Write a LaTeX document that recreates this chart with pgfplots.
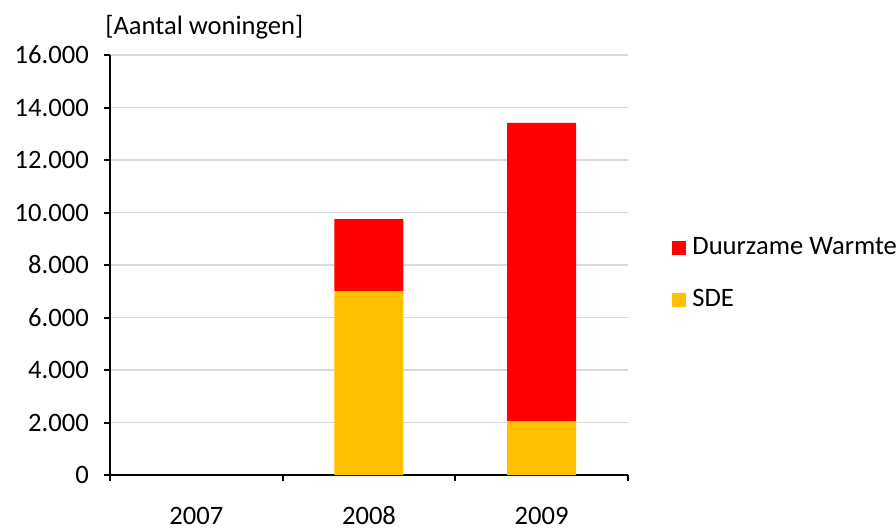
\documentclass[border=0pt]{standalone}
\usepackage{fontspec}
\setmainfont{Carlito}
\usepackage{pgfplots}
\pgfplotsset{compat=1.18}
\definecolor{sdeyel}{RGB}{255,192,0}
\begin{document}
\fontsize{13.3}{15.5}\selectfont
\begin{tikzpicture}
\path[use as bounding box] (-55pt,-26pt) rectangle (393pt,237.5pt);
\begin{axis}[
  at={(0,0)}, anchor=south west, scale only axis,
  width=259pt, height=210pt,
  ybar stacked, bar width=34.5pt,
  xmin=-0.5, xmax=2.5, ymin=0, ymax=16000,
  axis lines*=left,
  axis line style={line width=1pt},
  xtick={0,1,2}, xticklabels={2007,2008,2009},
  major x tick style={draw=none},
  xticklabel style={anchor=base, inner sep=0pt, yshift=-21.5pt},
  extra x ticks={-0.5,0.5,1.5,2.5}, extra x tick labels={},
  extra x tick style={major tick length=3pt, tick align=outside, major x tick style={draw=black, line width=1pt}, xmajorgrids=false},
  ytick={0,2000,...,16000},
  ymajorgrids, grid style={black!15, line width=0.6pt},
  y tick style={draw=black, line width=1pt},
  major tick length=3pt, tick align=outside,
  scaled y ticks=false,
  /pgf/number format/1000 sep={.},
  /pgf/number format/assume math mode=true,
  yticklabel style={xshift=-3pt},
  clip=false,
  reverse legend,
  legend image code/.code={\fill[#1] (0pt,-3.5pt) rectangle (7pt,3.5pt);},
  legend style={at={(1,0.5)}, anchor=west, xshift=22pt, yshift=-4.5pt, draw=none, fill=none, inner sep=0pt, row sep=9pt, nodes={inner sep=3pt}},
  legend cell align=left,
]
\addplot[fill=sdeyel, draw=none] coordinates {(0,0) (1,7000) (2,2050)};
\addplot[fill=red, draw=none] coordinates {(0,0) (1,2750) (2,11360)};
\legend{SDE, Duurzame Warmte}
\node[anchor=base west, inner sep=0pt] at (rel axis cs:0,1) [xshift=-2.5pt, yshift=10.5pt] {[Aantal woningen]};
\end{axis}
\end{tikzpicture}
\end{document}
